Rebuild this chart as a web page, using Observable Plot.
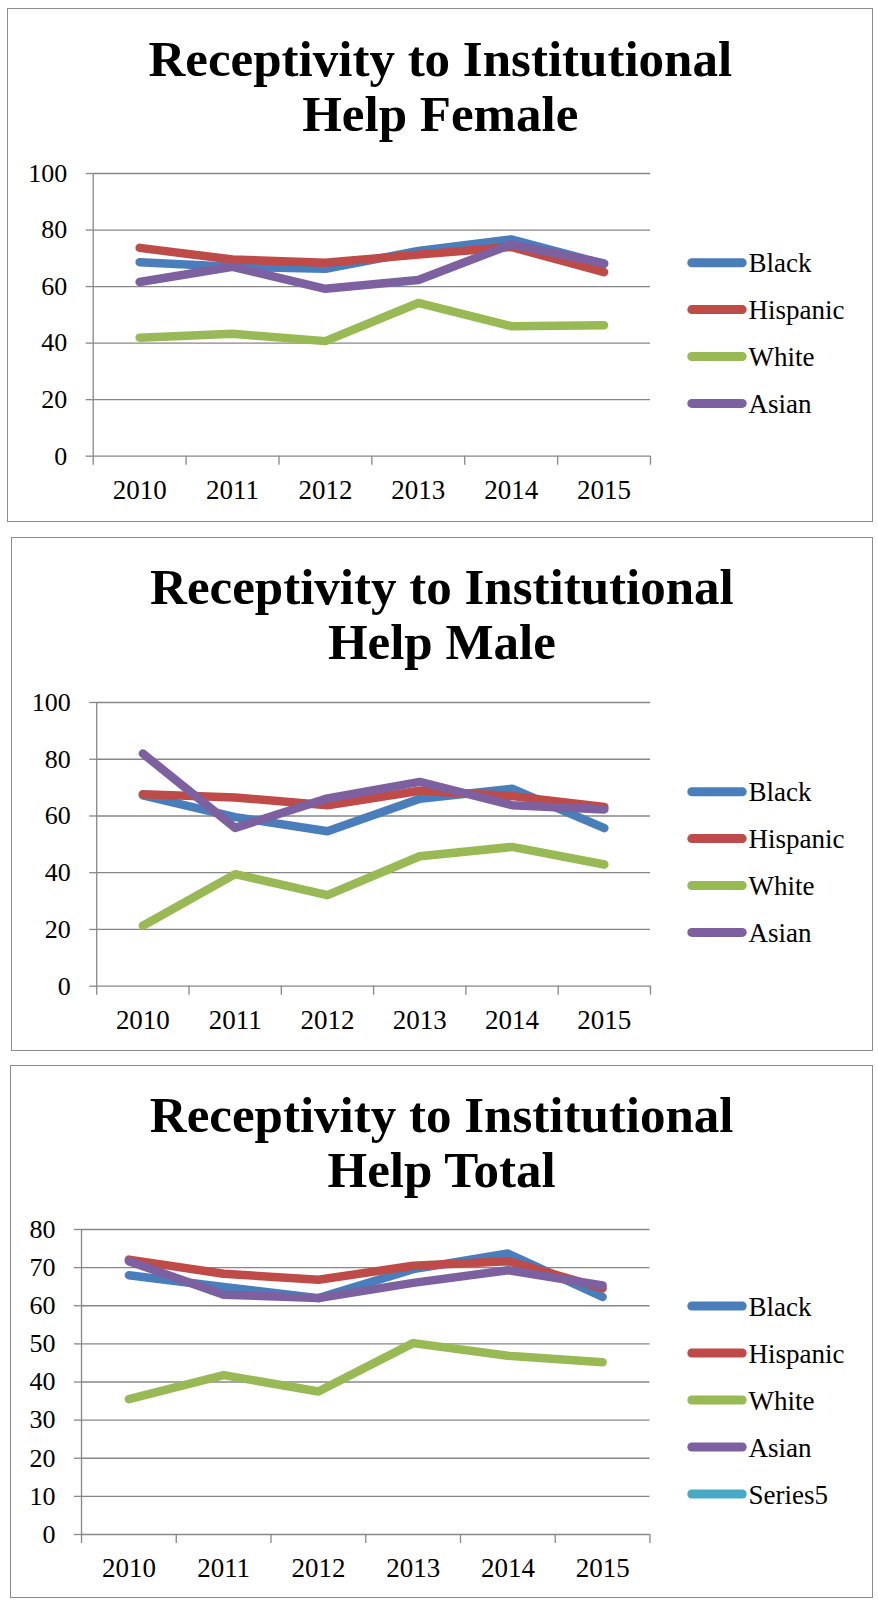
<!DOCTYPE html>
<html><head><meta charset="utf-8">
<script src="https://cdn.jsdelivr.net/npm/d3@7"></script>
<script src="https://cdn.jsdelivr.net/npm/@observablehq/plot@0.6"></script>
<style>
body{margin:0;background:#fff;width:878px;height:1600px;position:relative;overflow:hidden;font-family:"Liberation Serif",serif;color:#000}
.panel{position:absolute;box-sizing:border-box;border:1.4px solid #8c8c8c;background:#fff}
.title{position:absolute;text-align:center;font:bold 51px/55px "Liberation Serif",serif;color:#000;white-space:nowrap}
</style></head><body>
<script>
// ---- data ----
const years = ["2010", "2011", "2012", "2013", "2014", "2015"];
const seriesNames = ["Black", "Hispanic", "White", "Asian"];
const legendTotal = ["Black", "Hispanic", "White", "Asian", "Series5"];
const seriesColors = ["#4a7ebb", "#be4b48", "#98b954", "#7d60a0", "#46aac5"];

const femaleBlack    = [68.6, 67.0, 66.3, 72.6, 76.7, 68.0];
const femaleHispanic = [73.7, 69.6, 68.4, 71.3, 74.0, 65.1];
const femaleWhite    = [41.9, 43.3, 40.7, 54.2, 46.0, 46.3];
const femaleAsian    = [61.6, 67.0, 59.2, 62.3, 74.9, 68.2];

const maleBlack    = [67.3, 59.6, 54.6, 66.1, 69.6, 55.7];
const maleHispanic = [67.7, 66.5, 63.8, 68.9, 67.0, 63.2];
const maleWhite    = [21.3, 39.5, 32.1, 45.8, 49.1, 42.9];
const maleAsian    = [82.0, 55.8, 66.2, 72.0, 63.8, 62.3];

const totalBlack    = [68.0, 64.9, 62.0, 69.6, 73.7, 62.3];
const totalHispanic = [72.1, 68.4, 66.8, 70.5, 71.7, 64.6];
const totalWhite    = [35.5, 41.8, 37.5, 50.2, 46.9, 45.2];
const totalAsian    = [71.7, 62.9, 62.0, 66.0, 69.3, 65.3];

const yTicksPct   = [0, 20, 40, 60, 80, 100];
const yTicksTotal = [0, 10, 20, 30, 40, 50, 60, 70, 80];

const titles = [
  ["Receptivity to Institutional", "Help Female"],
  ["Receptivity to Institutional", "Help Male"],
  ["Receptivity to Institutional", "Help Total"]
];

// ---- layout ----
const panels = [
  {title: titles[0], box: [7.3, 8.3, 873.3, 522], plotL: 92.7, plotR: 650, yTop: 173.3, yZero: 456,
   ymax: 100, ticks: yTicksPct, values: [femaleBlack, femaleHispanic, femaleWhite, femaleAsian],
   legend: seriesNames, legY: 262.7, legStep: 46.9},
  {title: titles[1], box: [10.5, 536.7, 873.3, 1051], plotL: 96.2, plotR: 650, yTop: 702.3, yZero: 986,
   ymax: 100, ticks: yTicksPct, values: [maleBlack, maleHispanic, maleWhite, maleAsian],
   legend: seriesNames, legY: 791.7, legStep: 46.9},
  {title: titles[2], box: [10, 1064.7, 873.3, 1598], plotL: 81, plotR: 649.5, yTop: 1229.3, yZero: 1534.3,
   ymax: 80, ticks: yTicksTotal, values: [totalBlack, totalHispanic, totalWhite, totalAsian],
   legend: legendTotal, legY: 1306, legStep: 47}
];

const gridColor = "#878787";
const colorOf = name => seriesColors[legendTotal.indexOf(name)];

for (const p of panels) {
  const [x0, y0, x1, y1] = p.box;
  const box = document.createElement("div");
  box.className = "panel";
  Object.assign(box.style, {left: x0 + "px", top: y0 + "px", width: (x1 - x0) + "px", height: (y1 - y0) + "px"});
  document.body.appendChild(box);

  const t = document.createElement("div");
  t.className = "title";
  Object.assign(t.style, {left: x0 + "px", width: (x1 - x0) + "px", top: (y0 + 23.3) + "px"});
  t.innerHTML = p.title.map(s => `<div>${s}</div>`).join("");
  document.body.appendChild(t);

  const mt = 30, mb = 60;
  const H = p.yZero - p.yTop;
  const chart = Plot.plot({
    width: 878,
    height: H + mt + mb,
    marginLeft: p.plotL,
    marginRight: 878 - p.plotR,
    marginTop: mt,
    marginBottom: mb,
    x: {domain: [0, years.length], axis: null},
    y: {domain: [0, p.ymax], axis: null, label: null},
    style: {fontFamily: '"Liberation Serif", serif', background: "transparent", overflow: "visible", color: "#000"},
    marks: [
      Plot.gridY(p.ticks, {stroke: gridColor, strokeOpacity: 1, strokeWidth: 1.3}),
      Plot.axisY(p.ticks, {tickSize: 7, tickPadding: 19, fontSize: 26, stroke: gridColor, strokeWidth: 1.3, strokeOpacity: 1, fill: "#000", label: null}),
      Plot.ruleX([0], {stroke: gridColor, strokeWidth: 1.3}),
      Plot.axisX(d3.range(years.length + 1), {tickSize: 9, tickFormat: () => "", stroke: gridColor, strokeWidth: 1.3, strokeOpacity: 1, label: null}),
      Plot.text(years, {x: (d, i) => i + 0.5, text: d => d, frameAnchor: "bottom", dy: 34, lineAnchor: "middle", fontSize: 27, fill: "#000"}),
      ...seriesNames.map((name, k) => Plot.line(p.values[k], {
        x: (d, i) => i + 0.5, y: d => d, stroke: colorOf(name),
        strokeWidth: 8.5, strokeLinecap: "round", strokeLinejoin: "round"
      }))
    ]
  });
  chart.style.position = "absolute";
  chart.style.left = "0px";
  chart.style.top = (p.yTop - mt) + "px";
  document.body.appendChild(chart);

  // legend
  const lg = d3.create("svg").attr("width", 878).attr("height", 1600)
    .style("position", "absolute").style("left", "0px").style("top", "0px").style("pointer-events", "none");
  const items = lg.selectAll("g").data(p.legend).join("g")
    .attr("transform", (d, i) => `translate(0,${p.legY + i * p.legStep})`);
  items.append("line").attr("x1", 691.8).attr("x2", 742.2).attr("y1", 0).attr("y2", 0)
    .attr("stroke", d => colorOf(d)).attr("stroke-width", 9).attr("stroke-linecap", "round");
  items.append("text").attr("x", 748.5).attr("y", 9.5)
    .attr("font-family", '"Liberation Serif", serif').attr("font-size", 27).attr("fill", "#000")
    .text(d => d);
  document.body.appendChild(lg.node());
}
</script>
</body></html>
